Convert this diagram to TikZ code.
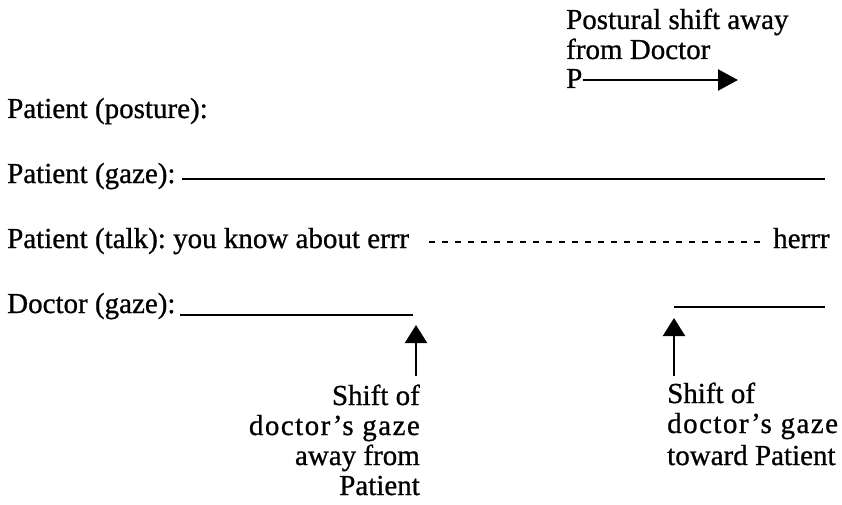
\documentclass[tikz,border=0pt]{standalone}
\usepackage{fontspec}
\setmainfont{Liberation Serif}[FakeBold=0.8]
\usetikzlibrary{arrows.meta}
\frenchspacing
\begin{document}
\begin{tikzpicture}[x=1pt,y=-1pt,
  txt/.style={inner sep=0pt,font=\fontsize{29}{30}\selectfont\frenchspacing\addfontfeature{FakeBold=0.8}},
  lbl/.style={txt,anchor=base west},
  track/.style={line width=2.8pt},
  talkdash/.style={line width=2.6pt,dash pattern=on 6pt off 7pt},
  uparrow/.style={line width=2.2pt,-{Triangle[length=18pt,width=22pt]}}]
\useasboundingbox (0,0) rectangle (842,505);
% top annotation
\node[lbl] (pst) at (566,29) {Postural shift away};
\node[lbl] (pst2) at (566,59) {from Doctor};
\node[lbl] (P) at (566,88) {P};
\coordinate (ptip) at (738,80);
\draw[line width=2.2pt,-{Triangle[length=20pt,width=21pt]}] (P.east |- ptip) -- (ptip);
% rows
\node[lbl] (rpost) at (7,118) {Patient (posture):};
\node[lbl] (rgaze) at (7,183) {Patient (gaze):};
\coordinate (gzA) at (182,179);
\coordinate (gzB) at (825,179);
\draw[track] (gzA) -- (gzB);
\node[lbl] (rtalk) at (7,248) {Patient (talk): you know about errr};
\node[lbl] (herrr) at (773,248) {herrr};
\coordinate (dA) at (429,242);
\coordinate (dB) at (760,242);
\draw[talkdash] (dA) -- (dB);
\node[lbl] (rdoc) at (7,313) {Doctor (gaze):};
\coordinate (docA) at (180,315);
\coordinate (docB) at (413,315);
\coordinate (docC) at (674,307);
\coordinate (docD) at (825,307);
\draw[track] (docA) -- (docB);
\draw[track] (docC) -- (docD);
% shift arrows
\coordinate (a1s) at (416,376);
\coordinate (a1t) at (416,325);
\coordinate (a2s) at (674,376);
\coordinate (a2t) at (674,318);
\draw[uparrow] (a1s) -- (a1t);
\draw[uparrow] (a2s) -- (a2t);
% labels
\node[txt,anchor=base east] (l1) at (420,405) {Shift of};
\node[txt,anchor=base east] (l2) at (420,435) {\addfontfeature{LetterSpace=5}doctor’s gaze};
\node[txt,anchor=base east] (l3) at (420,465) {away from};
\node[txt,anchor=base east] (l4) at (420,495) {Patient};
\node[lbl] (r1) at (667,403) {Shift of};
\node[lbl] (r2) at (667,433) {\addfontfeature{LetterSpace=5}doctor’s gaze};
\node[lbl] (r3) at (667,465) {toward Patient};
\end{tikzpicture}
\end{document}
